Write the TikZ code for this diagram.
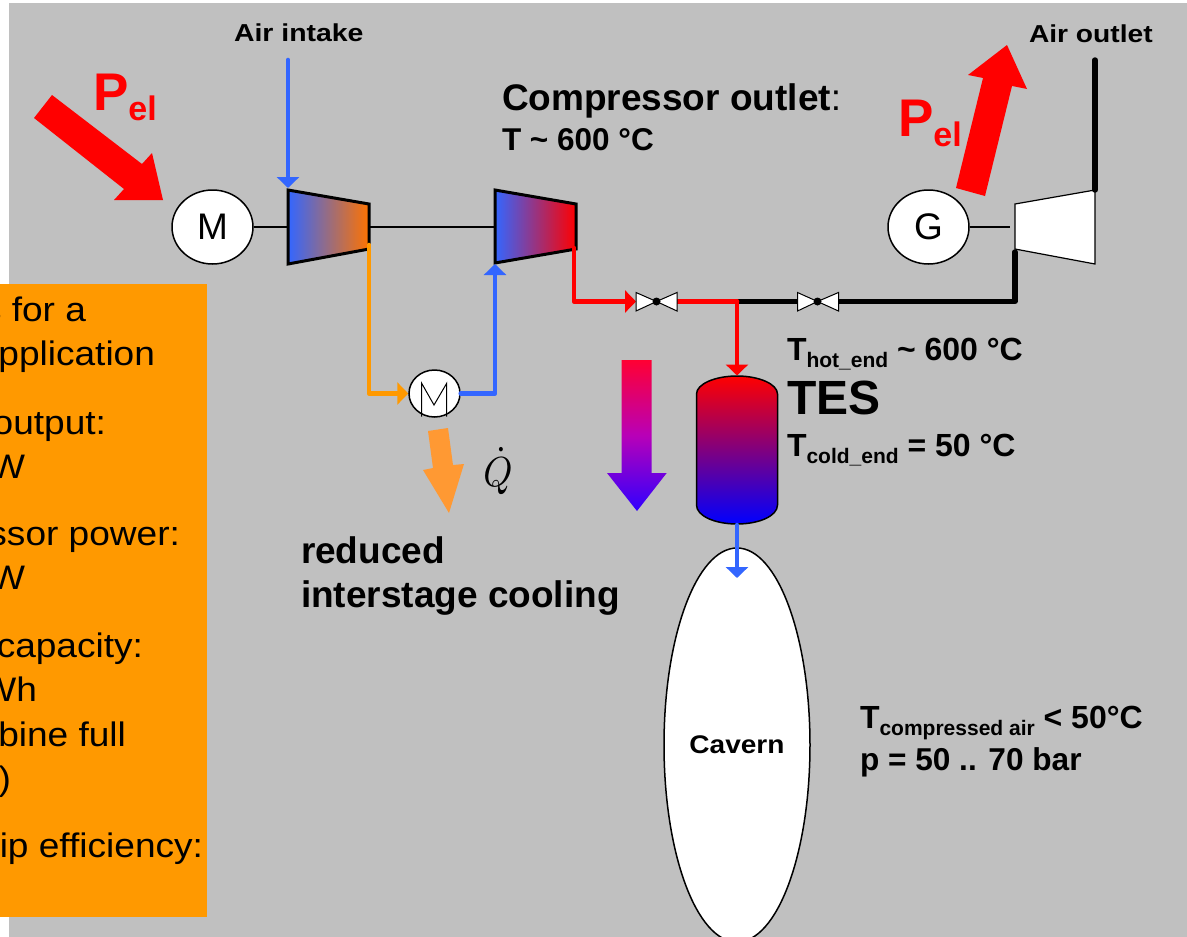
\documentclass[tikz,border=0pt]{standalone}
\usepackage{fontspec}
\setmainfont{Liberation Sans}
\usetikzlibrary{arrows.meta,shapes.geometric}
\definecolor{bggray}{HTML}{C0C0C0}
\definecolor{pipeblue}{HTML}{3366FF}
\definecolor{pipeorange}{HTML}{FF9900}
\definecolor{heatorange}{HTML}{FF9933}
\definecolor{flowtop}{HTML}{FF0033}
\definecolor{flowmid}{HTML}{B800B8}
\definecolor{flowbot}{HTML}{3000FF}
\newcommand{\fs}[1]{\fontsize{#1}{#1}\selectfont}
\newcommand{\wide}[2]{\scalebox{#1}[1]{#2}}
\tikzset{
  txt/.style={inner sep=0pt,outer sep=0pt,anchor=base west,text=black},
  side/.style={inner sep=0pt,outer sep=0pt,anchor=base east,text=black,font=\fs{34}},
  mach/.style={ellipse,draw=black,line width=1.5pt,fill=white,inner sep=0pt,font=\fs{37}},
  shaft/.style={draw=black,line width=2pt},
  pipe/.style={line width=4.6pt,line join=round,line cap=round},
  hotblack/.style={line width=5.4pt,line join=round,line cap=round,draw=black},
  tipa/.style={-{Triangle[length=11pt,width=22pt]}},
  power/.style={fill=red,draw=none},
  valve/.style={draw=black,line width=1pt,fill=white}
}
\begin{document}
\begin{tikzpicture}[x=1pt,y=-1pt]
\useasboundingbox (0,0) rectangle (1187,937);
\clip (0,0) rectangle (1187,937);
\fill[white] (0,0) rectangle (1187,937);
\fill[bggray] (9,3) rectangle (1187,937);
\fill[pipeorange] (0,284) rectangle (207,917);
% side panel text
\node[side] (s1) at (86,321) {\wide{1.09}{s for a}};
\node[side] (s2) at (155,365) {\wide{1.09}{pplication}};
\node[side] (s3) at (106,434) {\wide{1.09}{output:}};
\node[side] (s4) at (25,478) {\wide{1.09}{W}};
\node[side] (s5) at (180,545) {\wide{1.09}{ssor power:}};
\node[side] (s6) at (25,589) {\wide{1.09}{W}};
\node[side] (s7) at (143,657) {\wide{1.09}{capacity:}};
\node[side] (s8) at (37,701) {\wide{1.09}{Wh}};
\node[side] (s9) at (126,746) {\wide{1.09}{bine full}};
\node[side] (s10) at (11,790) {\wide{1.09}{)}};
\node[side] (s11) at (203,857) {\wide{1.09}{ip efficiency:}};
% power arrows
\fill[power] (52,95) -- (34,118) -- (124,189) -- (114,200) -- (163,200) -- (152,153) -- (142,164) -- cycle;
\fill[power] (956,188) -- (985,196) -- (1012,86) -- (1027,89) -- (1007,45) -- (968,75) -- (983,78) -- cycle;
\node[txt,text=red,font=\fs{53}\bfseries] (p1) at (93,110) {P\raisebox{-10pt}{\fs{34}el}};
\node[txt,text=red,font=\fs{53}\bfseries] (p2) at (898,136) {P\raisebox{-10pt}{\fs{34}el}};
% machines
\node[mach,minimum width=81pt,minimum height=74pt] (M) at (212.5,227) {M};
\node[mach,minimum width=81pt,minimum height=74pt] (G) at (928.5,227) {G};
\coordinate (c1in) at (288,227);
\coordinate (c1out) at (369,227);
\coordinate (c2in) at (495,227);
\coordinate (tin) at (1010,227);
\draw[shaft] (M) -- (c1in);
\draw[shaft] (c1out) -- (c2in);
\draw[shaft] (G) -- (tin);
\path[draw=black,line width=3pt,line join=miter,left color=pipeblue,right color=orange!90!red] (288,190) -- (369,204) -- (369,249) -- (288,264) -- cycle;
\path[draw=black,line width=3pt,line join=miter,left color=pipeblue,right color=red] (495,190) -- (576,204) -- (576,249) -- (495,263) -- cycle;
\path[draw=black,line width=1.2pt,fill=white] (1015,204) -- (1095,190) -- (1095,264) -- (1015,249) -- cycle;
% cooler
\node[mach,minimum width=51pt,minimum height=47pt] (K) at (434.5,393.5) {};
\draw[black,line width=1pt] (421.7,416.7) -- (421.7,383.3) -- (434,405) -- (446.7,383.3) -- (446.7,416.7);
% pipes
\coordinate (airin) at (288,60);
\coordinate (c1top) at (288,188);
\draw[pipe,draw=pipeblue,tipa] (airin) -- (c1top);
\coordinate (c1low) at (369,245);
\draw[pipe,draw=pipeorange,tipa] (c1low) |- (K.west);
\coordinate (c2low) at (495,264);
\draw[pipe,draw=pipeblue,tipa] (K.east) -| (c2low);
% valves
\coordinate (v1) at (656.5,301.5);
\coordinate (v2) at (817.5,301.5);
\coordinate (v1l) at (636,301.5);
\coordinate (v1r) at (677,301.5);
\coordinate (v2l) at (797.5,301.5);
\coordinate (v2r) at (838.5,301.5);
\coordinate (tee) at (737,301.5);
\coordinate (c2out) at (574,248);
\coordinate (tlow) at (1015,252);
\coordinate (aout) at (1095,60);
\coordinate (tup) at (1095,190);
\draw[pipe,draw=red,tipa] (c2out) |- (v1l);
\draw[hotblack] (tee) -- (v2l);
\draw[hotblack] (v2r) -| (tlow);
\draw[hotblack] (aout) -- (tup);
\draw[pipe,draw=red] (v1r) -- (tee);
\foreach \c/\l/\r in {656.5/636/677,817.5/797.5/838.5}{
  \path[valve] (\l,292.5) -- (\c,301.5) -- (\l,311) -- cycle;
  \path[valve] (\r,292.5) -- (\c,301.5) -- (\r,311) -- cycle;
}
\node[circle,fill=black,minimum size=8pt,inner sep=0pt] (d1) at (v1) {};
\node[circle,fill=black,minimum size=8pt,inner sep=0pt] (d2) at (v2) {};
% cavern
\node[ellipse,draw=black,line width=1.5pt,fill=white,minimum width=146pt,minimum height=394pt,inner sep=0pt] (cav) at (737,745) {};
\node[txt,anchor=center,font=\fs{25.5}\bfseries] (cavt) at (737,745) {\wide{1.1}{Cavern}};
% TES
\path[draw=black,line width=1.5pt,top color=red,bottom color=blue] (696.5,394) .. controls (696.5,384) and (715,376) .. (737,376) .. controls (759,376) and (777.5,384) .. (777.5,394) -- (777.5,505) .. controls (777.5,516) and (759,524) .. (737,524) .. controls (715,524) and (696.5,516) .. (696.5,505) -- cycle;
\coordinate (testop) at (737,375.5);
\coordinate (tesbot) at (737,525);
\coordinate (cavtip) at (737,578);
\draw[pipe,draw=red,tipa] (tee) -- (testop);
\draw[pipe,draw=pipeblue,tipa] (tesbot) -- (cavtip);
% big arrows
\path[top color=flowtop,bottom color=flowbot,middle color=flowmid] (621.7,360) -- (651.7,360) -- (651.7,473) -- (666.7,473) -- (637,511) -- (607,473) -- (621.7,473) -- cycle;
\fill[heatorange] (428,431) -- (448,428) -- (453,465) -- (464,464) -- (449,513) -- (423,470) -- (433,468) -- cycle;
\node[txt,anchor=center] (q) at (498,471) {\scalebox{3.7}[4.2]{$\dot{Q}$}};
% labels
\node[txt,font=\fs{24.5}\bfseries] (ai) at (234,41) {\wide{1.16}{Air intake}};
\node[txt,font=\fs{24.5}\bfseries] (ao) at (1029,42) {\wide{1.15}{Air outlet}};
\node[txt,font=\fs{37}] (co) at (502,110) {\textbf{Compressor outlet}:};
\node[txt,font=\fs{31.5}\bfseries] (co2) at (502,150) {T \char`~{} 600 °C};
\node[txt,font=\fs{37}\bfseries] (r1) at (301,563) {reduced};
\node[txt,font=\fs{37}\bfseries] (r2) at (301,607) {interstage cooling};
\node[txt,font=\fs{32}\bfseries] (th) at (787,360) {T\raisebox{-7pt}{\fs{21}hot\_end} \char`~{} 600 °C};
\node[txt,font=\fs{48}\bfseries] (tes) at (787,414) {TES};
\node[txt,font=\fs{32}\bfseries] (tc) at (787,456) {T\raisebox{-7pt}{\fs{21}cold\_end} = 50 °C};
\node[txt,font=\fs{32}\bfseries] (tca) at (860,728) {T\raisebox{-7pt}{\fs{21}compressed air} < 50°C};
\node[txt,font=\fs{31.6}\bfseries] (pr) at (860,770) {p = 50 .. 70 bar};
\end{tikzpicture}
\end{document}
